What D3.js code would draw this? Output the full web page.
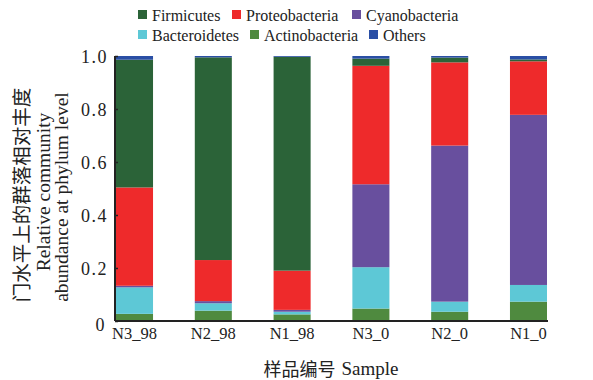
<!DOCTYPE html>
<html>
<head>
<meta charset="utf-8">
<script src="https://cdn.jsdelivr.net/npm/d3@7"></script>
<style>
    body { margin: 0; background: #fff; }
    svg { display: block; }
</style>
</head>
<body>
<svg id="svg" width="593" height="380"></svg>
<script>
// samples along the x axis
var samples = ["N3_98", "N2_98", "N1_98", "N3_0", "N2_0", "N1_0"];

// phyla in stacking order, bottom to top
var phyla = ["Actinobacteria", "Bacteroidetes", "Cyanobacteria", "Proteobacteria", "Firmicutes", "Others"];

// relative abundance per sample (same order as samples)
var actinobacteria = [0.027, 0.039, 0.025, 0.047, 0.035, 0.073];
var bacteroidetes  = [0.100, 0.028, 0.010, 0.156, 0.038, 0.063];
var cyanobacteria  = [0.006, 0.008, 0.007, 0.313, 0.589, 0.642];
var proteobacteria = [0.371, 0.155, 0.148, 0.447, 0.314, 0.202];
var firmicutes     = [0.482, 0.765, 0.807, 0.027, 0.018, 0.007];
var others         = [0.014, 0.005, 0.003, 0.010, 0.006, 0.013];

var yTicks = [0, 0.2, 0.4, 0.6, 0.8, 1.0];

// legend order as printed (two rows of three)
var legendOrder = ["Firmicutes", "Proteobacteria", "Cyanobacteria", "Bacteroidetes", "Actinobacteria", "Others"];

var colors = {
    Firmicutes: "#2b6338",
    Proteobacteria: "#ee2a2b",
    Cyanobacteria: "#684f9e",
    Bacteroidetes: "#5dc8d6",
    Actinobacteria: "#4f8a3f",
    Others: "#2a4fa5"
};

var latin = "'Liberation Serif'";
var cjk = "'Noto Sans CJK SC'";

// build rows for d3.stack
var seriesByName = {
    Actinobacteria: actinobacteria,
    Bacteroidetes: bacteroidetes,
    Cyanobacteria: cyanobacteria,
    Proteobacteria: proteobacteria,
    Firmicutes: firmicutes,
    Others: others
};
var table = samples.map(function (s, i) {
    var row = {sample: s};
    phyla.forEach(function (p) { row[p] = seriesByName[p][i]; });
    return row;
});

var svg = d3.select("svg"),
    margin = {top: 56, right: 46, bottom: 59, left: 115},
    width = 593 - margin.left - margin.right,
    height = 380 - margin.top - margin.bottom;

var g = svg.append("g").attr("transform", "translate(" + margin.left + "," + margin.top + ")");

var x = d3.scaleBand()
    .domain(samples)
    .range([1, width])
    .paddingInner(0.53)
    .paddingOuter(0);

var y = d3.scaleLinear()
    .domain([0, 1])
    .range([height, 0]);

var stacked = d3.stack().keys(phyla)(table);

// bars
g.selectAll(".layer")
    .data(stacked)
    .enter().append("g")
    .attr("class", "layer")
    .attr("fill", function (d) { return colors[d.key]; })
    .selectAll("rect")
    .data(function (d) { return d; })
    .enter().append("rect")
    .attr("x", function (d) { return x(d.data.sample); })
    .attr("width", x.bandwidth())
    .attr("y", function (d) { return y(d[1]); })
    .attr("height", function (d) { return y(d[0]) - y(d[1]); });

// y axis, ticks pointing inwards
var yAxis = g.append("g")
    .attr("class", "axis axis--y")
    .call(d3.axisRight(y).tickValues(yTicks).tickSize(3)
        .tickFormat(function (d) { return d === 0 ? "0" : d3.format(".1f")(d); }));
yAxis.attr("font-family", latin).attr("font-size", 18);
yAxis.select(".domain").remove();
yAxis.selectAll(".tick line").attr("stroke", "#222").attr("stroke-width", 1.5);
yAxis.selectAll(".tick text")
    .attr("x", -7)
    .attr("dy", "0.35em")
    .attr("text-anchor", "end")
    .attr("letter-spacing", 1.5)
    .attr("fill", "#222");
yAxis.selectAll(".tick").filter(function (d) { return d === 0; })
    .select("text").attr("x", -9).attr("dy", "0.55em");

// x axis labels
var xAxis = g.append("g")
    .attr("class", "axis axis--x")
    .attr("transform", "translate(0," + height + ")")
    .call(d3.axisBottom(x).tickSize(0));
xAxis.attr("font-family", latin).attr("font-size", 16.5);
xAxis.select(".domain").remove();
xAxis.selectAll(".tick text")
    .attr("y", 5)
    .attr("dy", "0.8em")
    .attr("fill", "#222");

// axis lines
g.append("line")
    .attr("x1", 0).attr("x2", 0)
    .attr("y1", y(1)).attr("y2", height)
    .attr("stroke", "#222").attr("stroke-width", 2);
g.append("line")
    .attr("x1", 0).attr("x2", width + 1)
    .attr("y1", height).attr("y2", height)
    .attr("stroke", "#222").attr("stroke-width", 2);

// legend
var legend = svg.append("g").attr("class", "legend")
    .attr("font-family", latin).attr("font-size", 16);
var legendY = [15, 35];
var legendX = [[138, 232, 352], [138, 250, 369]];
legendOrder.forEach(function (name, i) {
    var col = i % 3, row = Math.floor(i / 3);
    var item = legend.append("g")
        .attr("transform", "translate(" + legendX[row][col] + "," + legendY[row] + ")");
    item.append("rect")
        .attr("x", 0).attr("y", -5)
        .attr("width", 9).attr("height", 9)
        .attr("fill", colors[name]);
    item.append("text")
        .attr("x", 14)
        .attr("dy", "0.35em")
        .attr("fill", "#222")
        .text(name);
});

// y axis title, three rotated lines
var yTitle = svg.append("g").attr("transform", "rotate(-90)");
yTitle.append("text")
    .attr("x", -195).attr("y", 20)
    .attr("text-anchor", "middle")
    .attr("dominant-baseline", "central")
    .attr("font-family", cjk)
    .attr("font-size", 19.5)
    .attr("fill", "#222")
    .text("门水平上的群落相对丰度");
yTitle.append("text")
    .attr("x", -192).attr("y", 50)
    .attr("text-anchor", "middle")
    .attr("font-family", latin)
    .attr("font-size", 19.5)
    .attr("fill", "#222")
    .text("Relative community");
yTitle.append("text")
    .attr("x", -197).attr("y", 68)
    .attr("text-anchor", "middle")
    .attr("font-family", latin)
    .attr("font-size", 19.5)
    .attr("fill", "#222")
    .text("abundance at phylum level");

// x axis title
var xTitle = svg.append("text")
    .attr("x", 331)
    .attr("y", 368)
    .attr("text-anchor", "middle")
    .attr("dominant-baseline", "central")
    .attr("fill", "#222");
xTitle.append("tspan")
    .attr("font-family", cjk)
    .attr("font-size", 18)
    .text("样品编号");
xTitle.append("tspan")
    .attr("font-family", latin)
    .attr("font-size", 19)
    .attr("dx", 6)
    .text("Sample");
</script>
</body>
</html>
